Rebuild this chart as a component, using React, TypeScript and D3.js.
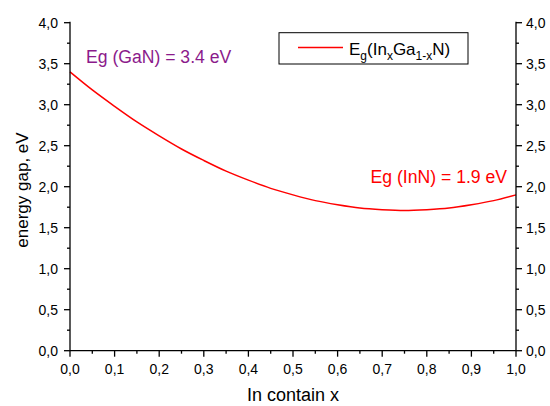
import React from "react";
import * as d3 from "d3";

// In content x
const xValues = [0, 0.05, 0.1, 0.15, 0.2, 0.25, 0.3, 0.35, 0.4, 0.45, 0.5, 0.55, 0.6, 0.65, 0.7, 0.75, 0.8, 0.85, 0.9, 0.95, 1.0];
// energy gap, eV
const egValues = [3.4, 3.18, 2.98, 2.79, 2.62, 2.46, 2.32, 2.19, 2.08, 1.98, 1.9, 1.83, 1.78, 1.74, 1.72, 1.71, 1.72, 1.74, 1.78, 1.83, 1.9];
const xTicks = [0, 0.1, 0.2, 0.3, 0.4, 0.5, 0.6, 0.7, 0.8, 0.9, 1.0];
const yTicks = [0, 0.5, 1, 1.5, 2, 2.5, 3, 3.5, 4];

const W = 550;
const H = 406;
const left = 70;
const right = 516;
const top = 22.7;
const bottom = 350.7;
const font = "'Liberation Sans', Arial, sans-serif";
const fmt = (v: number) => v.toFixed(1).replace(".", ",");

export default function App() {
  const x = d3.scaleLinear().domain([0, 1]).range([left, right]);
  const y = d3.scaleLinear().domain([0, 4]).range([bottom, top]);
  const line = d3
    .line<number>()
    .x((_, i) => x(xValues[i]))
    .y((d) => y(d))
    .curve(d3.curveMonotoneX);

  const xMinor = d3.range(0.05, 1, 0.1);
  const yMinor = d3.range(0.25, 4, 0.5);

  return (
    <svg
      width={W}
      height={H}
      style={{ position: "absolute", left: 0, top: 0, background: "#fff" }}
      fontFamily={font}
    >
      {/* curve */}
      <path d={line(egValues) || ""} fill="none" stroke="#ff0000" strokeWidth={1.5} />

      {/* axes */}
      <g stroke="#000" strokeWidth={1.3}>
        <line x1={left} x2={left} y1={top - 1} y2={bottom} />
        <line x1={right} x2={right} y1={top - 1} y2={bottom} />
        <line x1={left} x2={right} y1={bottom} y2={bottom} />
        {yTicks.map((t) => (
          <g key={"y" + t}>
            <line x1={left - 6} x2={left} y1={y(t)} y2={y(t)} />
            <line x1={right} x2={right + 6} y1={y(t)} y2={y(t)} />
          </g>
        ))}
        {yMinor.map((t) => (
          <g key={"ym" + t}>
            <line x1={left - 3} x2={left} y1={y(t)} y2={y(t)} />
            <line x1={right} x2={right + 3} y1={y(t)} y2={y(t)} />
          </g>
        ))}
        {xTicks.map((t) => (
          <line key={"x" + t} x1={x(t)} x2={x(t)} y1={bottom} y2={bottom + 6} />
        ))}
        {xMinor.map((t) => (
          <line key={"xm" + t} x1={x(t)} x2={x(t)} y1={bottom} y2={bottom + 3} />
        ))}
      </g>

      <g fontSize={14} fill="#000">
        {yTicks.map((t) => (
          <text key={"yl" + t} x={left - 12} y={y(t) + 5} textAnchor="end">
            {fmt(t)}
          </text>
        ))}
        {yTicks.map((t) => (
          <text key={"yr" + t} x={right + 10} y={y(t) + 5} textAnchor="start">
            {fmt(t)}
          </text>
        ))}
        {xTicks.map((t) => (
          <text key={"xl" + t} x={x(t)} y={bottom + 23.5} textAnchor="middle">
            {fmt(t)}
          </text>
        ))}
      </g>

      {/* axis titles */}
      <text x={(left + right) / 2} y={401} textAnchor="middle" fontSize={18}>
        In contain x
      </text>
      <text
        transform={`translate(28, 190) rotate(-90)`}
        textAnchor="middle"
        fontSize={17}
      >
        energy gap, eV
      </text>

      {/* annotations */}
      <text x={86} y={63.3} fontSize={17.6} fill="#8b1a8b">
        Eg (GaN) = 3.4 eV
      </text>
      <text x={507} y={183} fontSize={17.6} fill="#ff0000" textAnchor="end">
        Eg (InN) = 1.9 eV
      </text>

      {/* legend */}
      <rect x={279} y={32.7} width={189} height={31.3} fill="#fff" stroke="#000" strokeWidth={1} />
      <line x1={298} x2={343} y1={47.5} y2={47.5} stroke="#ff0000" strokeWidth={1.5} />
      <text x={349} y={55} fontSize={17}>
        E<tspan fontSize={12} dy={4.5}>g</tspan>
        <tspan dy={-4.5}>(In</tspan>
        <tspan fontSize={12} dy={4.5}>x</tspan>
        <tspan dy={-4.5}>Ga</tspan>
        <tspan fontSize={12} dy={4.5}>1-x</tspan>
        <tspan dy={-4.5}>N)</tspan>
      </text>
    </svg>
  );
}
